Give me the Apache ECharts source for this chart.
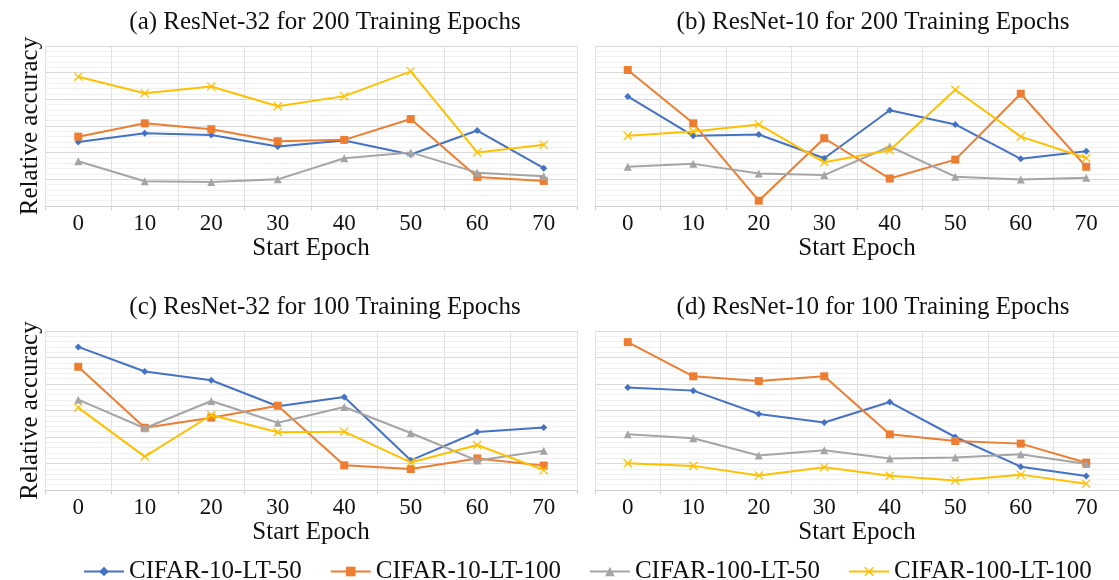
<!DOCTYPE html>
<html>
<head>
<meta charset="utf-8">
<script src="https://cdn.jsdelivr.net/npm/echarts@6/dist/echarts.min.js"></script>
<style>
html,body{margin:0;padding:0;background:#fff;}
#chart{width:1119px;height:580px;}
</style>
</head>
<body>
<div id="chart"></div>
<script>
// Categories (start epoch)
const startEpochs = ['0','10','20','30','40','50','60','70'];
const seriesNames = ['CIFAR-10-LT-50','CIFAR-10-LT-100','CIFAR-100-LT-50','CIFAR-100-LT-100'];
const panelTitles = [
  '(a) ResNet-32 for 200 Training Epochs',
  '(b) ResNet-10 for 200 Training Epochs',
  '(c) ResNet-32 for 100 Training Epochs',
  '(d) ResNet-10 for 100 Training Epochs'
];

// Relative accuracy (unitless)
// (a) ResNet-32, 200 epochs
const a_c10_50   = [2.40, 2.73, 2.66, 2.23, 2.46, 1.93, 2.83, 1.42];
const a_c10_100  = [2.60, 3.10, 2.88, 2.43, 2.48, 3.26, 1.09, 0.94];
const a_c100_50  = [1.68, 0.93, 0.90, 1.00, 1.79, 2.01, 1.25, 1.12];
const a_c100_100 = [4.85, 4.23, 4.48, 3.74, 4.12, 5.05, 2.01, 2.30];
// (b) ResNet-10, 200 epochs
const b_c10_50   = [4.11, 2.63, 2.68, 1.79, 3.59, 3.06, 1.77, 2.05];
const b_c10_100  = [5.10, 3.10, 0.20, 2.54, 1.03, 1.74, 4.21, 1.47];
const b_c100_50  = [1.47, 1.58, 1.22, 1.16, 2.23, 1.10, 0.99, 1.06];
const b_c100_100 = [2.63, 2.79, 3.06, 1.64, 2.09, 4.36, 2.60, 1.80];
// (c) ResNet-32, 100 epochs
const c_c10_50   = [5.40, 4.47, 4.14, 3.16, 3.51, 1.12, 2.19, 2.36];
const c_c10_100  = [4.65, 2.35, 2.73, 3.18, 0.93, 0.79, 1.19, 0.92];
const c_c100_50  = [3.41, 2.33, 3.36, 2.54, 3.13, 2.15, 1.11, 1.48];
const c_c100_100 = [3.11, 1.26, 2.83, 2.18, 2.20, 1.04, 1.70, 0.75];
// (d) ResNet-10, 100 epochs
const d_c10_50   = [3.87, 3.75, 2.87, 2.55, 3.32, 2.00, 0.88, 0.53];
const d_c10_100  = [5.58, 4.29, 4.11, 4.29, 2.10, 1.85, 1.75, 1.03];
const d_c100_50  = [2.10, 1.95, 1.30, 1.50, 1.19, 1.23, 1.35, 0.98];
const d_c100_100 = [1.01, 0.91, 0.55, 0.86, 0.54, 0.36, 0.58, 0.24];

const panelData = [
  [a_c10_50, a_c10_100, a_c100_50, a_c100_100],
  [b_c10_50, b_c10_100, b_c100_50, b_c100_100],
  [c_c10_50, c_c10_100, c_c100_50, c_c100_100],
  [d_c10_50, d_c10_100, d_c100_50, d_c100_100]
];

const colors = ['#4472C4', '#ED7D31', '#A5A5A5', '#FFC000'];
const xSymbol = 'path://M0,1L1,0L5,4L9,0L10,1L6,5L10,9L9,10L5,6L1,10L0,9L4,5Z';
const symbols = ['diamond', 'rect', 'triangle', xSymbol];
const symbolSizes = [7, 8, 8, 9];

const FONT = '"Liberation Serif", "DejaVu Serif", serif';

const grids = [
  {left: 45,  top: 46,  width: 532, height: 160},
  {left: 595, top: 46,  width: 532, height: 160},
  {left: 45,  top: 331, width: 532, height: 159},
  {left: 595, top: 331, width: 532, height: 159}
];
const titleCenters = [[320, 5], [868, 5], [320, 290], [868, 290]];

const option = {
  backgroundColor: '#ffffff',
  animation: false,
  color: colors,
  title: panelTitles.map((t, i) => ({
    text: t,
    left: titleCenters[i][0],
    top: titleCenters[i][1],
    textAlign: 'center',
    textStyle: {fontFamily: FONT, fontSize: 25, fontWeight: 'normal', color: '#111'}
  })),
  legend: {
    left: 78,
    top: 554,
    width: 1040,
    itemGap: 28,
    itemWidth: 40,
    itemHeight: 12,
    data: seriesNames,
    textStyle: {fontFamily: FONT, fontSize: 25, color: '#111'}
  },
  grid: grids,
  xAxis: grids.map((g, i) => ({
    type: 'category',
    gridIndex: i,
    data: startEpochs,
    boundaryGap: true,
    name: 'Start Epoch',
    nameLocation: 'middle',
    nameGap: 25,
    nameTextStyle: {fontFamily: FONT, fontSize: 25, color: '#111'},
    axisLine: {lineStyle: {color: '#d0d0d0', width: 1}},
    axisTick: {show: true, length: 4, lineStyle: {color: '#d0d0d0'}},
    axisLabel: {fontFamily: FONT, fontSize: 23, color: '#111', margin: 6},
    splitLine: {show: true, lineStyle: {color: '#e2e2e2', width: 1}}
  })),
  yAxis: grids.map((g, i) => ({
    type: 'value',
    gridIndex: i,
    min: 0,
    max: 6,
    interval: 1,
    name: (i % 2 === 0) ? 'Relative accuracy' : '',
    nameLocation: 'middle',
    nameRotate: 90,
    nameGap: 2,
    nameTextStyle: {fontFamily: FONT, fontSize: 25, color: '#111'},
    axisLine: {show: true, lineStyle: {color: '#e2e2e2'}},
    axisTick: {show: false},
    axisLabel: {show: false},
    splitLine: {show: true, lineStyle: {color: '#d9d9d9', width: 1}},
    minorTick: {show: false, splitNumber: 5},
    minorSplitLine: {show: true, lineStyle: {color: '#f0f0f0', width: 1}}
  })),
  series: []
};

panelData.forEach((group, p) => {
  group.forEach((vals, s) => {
    option.series.push({
      name: seriesNames[s],
      type: 'line',
      xAxisIndex: p,
      yAxisIndex: p,
      data: vals,
      symbol: symbols[s],
      symbolSize: symbolSizes[s],
      showAllSymbol: true,
      lineStyle: {width: 2, color: colors[s]},
      itemStyle: {color: colors[s]},
      z: 2 + s
    });
  });
});

const chart = echarts.init(document.getElementById('chart'), null, {renderer: 'canvas'});
chart.setOption(option);
</script>
</body>
</html>
